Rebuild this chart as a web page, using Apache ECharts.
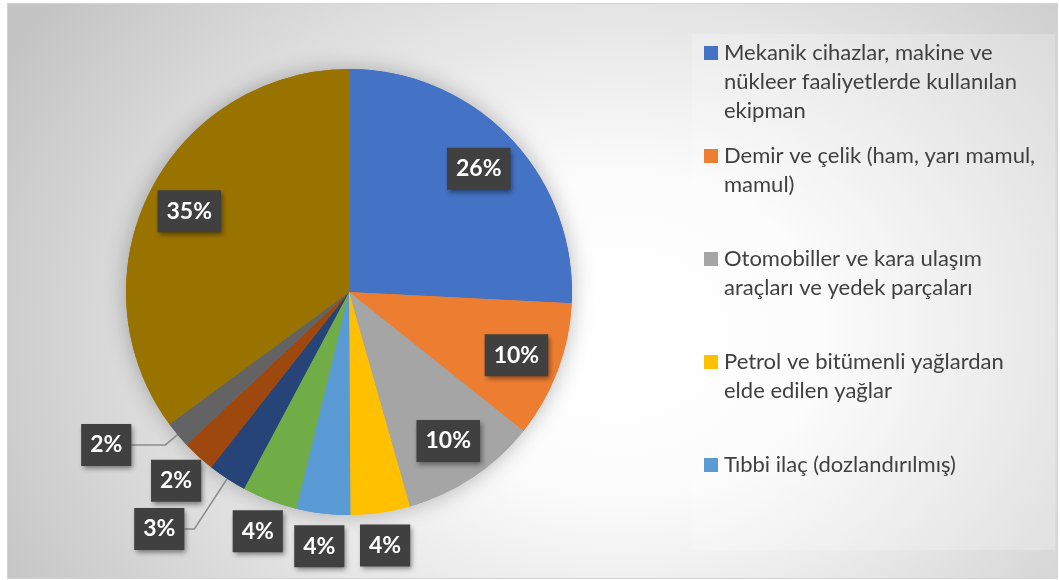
<!DOCTYPE html>
<html>
<head>
<meta charset="utf-8">
<script src="https://cdn.jsdelivr.net/npm/echarts@6/dist/echarts.min.js"></script>
<style>
  html, body { margin: 0; padding: 0; background: #ffffff; }
  #frame {
    position: absolute; left: 7px; top: 3px; width: 1051px; height: 576px; box-sizing: border-box;
    border: 1px solid #d4d4d4;
    background: radial-gradient(ellipse 700px 560px at 610px 330px, #ffffff 0%, #fcfcfc 28%, #c4c4c4 100%);
  }
  #chart { position: absolute; left: 0; top: 0; width: 1060px; height: 580px; }
</style>
</head>
<body>
<div id="frame"></div>
<div id="chart"></div>
<script>
// ---- data ----
const categories = [
  'Mekanik cihazlar, makine ve\nnükleer faaliyetlerde kullanılan\nekipman',
  'Demir ve çelik (ham, yarı mamul,\nmamul)',
  'Otomobiller ve kara ulaşım\naraçları ve yedek parçaları',
  'Petrol ve bitümenli yağlardan\nelde edilen yağlar',
  'Tıbbi ilaç (dozlandırılmış)',
  'Kategori 6',
  'Kategori 7',
  'Kategori 8',
  'Kategori 9',
  'Kategori 10'
];
const shares = [25.8, 9.9, 9.9, 4.3, 3.9, 4.0, 2.8, 2.4, 1.9, 35.1];
const colors = ['#4472C4', '#ED7D31', '#A5A5A5', '#FFC000', '#5B9BD5',
                '#70AD47', '#264478', '#9E480E', '#636363', '#997300'];
const legendCount = 5;

// label placement groups
const insideIdx = [0, 1, 2, 9];
const ringIdx = [3, 4, 5, 7];
const leaderIdx = [6, 8];

// ---- layout ----
const CENTER = [349, 292];
const R = 223;
const FONT = 'Lato, "Open Sans", sans-serif';

const boxLabel = {
  color: '#ffffff', fontFamily: FONT, fontWeight: 'bold', fontSize: 23, lineHeight: 23,
  backgroundColor: '#404040', padding: [10, 9, 9, 9],
  shadowColor: 'rgba(0,0,0,0.45)', shadowBlur: 5, shadowOffsetX: 2, shadowOffsetY: 3,
  formatter: p => Math.round(p.percent) + '%'
};

function makeData(showFn, extraFn) {
  return shares.map((v, i) => {
    const d = { name: categories[i], value: v, itemStyle: { color: colors[i] }, label: { show: showFn(i) } };
    if (extraFn) Object.assign(d, extraFn(i));
    return d;
  });
}

const leaderLen = { 6: [60, 10], 8: [16, 34] };
const clear = 'rgba(0,0,0,0)';

const basePie = {
  type: 'pie', center: CENTER, startAngle: 90, clockwise: true,
  avoidLabelOverlap: false, emphasis: { disabled: true }, silent: true, animation: false
};

function labelRing(radius, idx) {
  return Object.assign({}, basePie, {
    radius: radius, z: 3,
    itemStyle: { color: clear },
    label: Object.assign({ position: 'inside' }, boxLabel),
    labelLine: { show: false },
    labelLayout: { hideOverlap: false },
    data: makeData(i => idx.includes(i)).map(d => Object.assign(d, { itemStyle: { color: clear } }))
  });
}

const series = [
  // halo / shadow under the pie
  Object.assign({}, basePie, {
    radius: R, z: 1,
    itemStyle: { shadowBlur: 22, shadowColor: 'rgba(0,0,0,0.28)' },
    label: { show: false }, labelLine: { show: false },
    data: makeData(() => false)
  }),
  // main pie with leader-line labels
  Object.assign({}, basePie, {
    radius: R, z: 2,
    label: Object.assign({ position: 'outside', distanceToLabelLine: 0 }, boxLabel),
    labelLine: { show: true, lineStyle: { color: '#8c8c8c', width: 1.5 } },
    labelLayout: { hideOverlap: false },
    data: makeData(i => leaderIdx.includes(i), i => leaderIdx.includes(i)
      ? { labelLine: { show: true, length: leaderLen[i][0], length2: leaderLen[i][1], lineStyle: { color: '#8c8c8c', width: 1.5 } } }
      : { labelLine: { show: false } })
  }),
  labelRing([0, 352], insideIdx),
  labelRing([238, 268], ringIdx)
];

// legend: one block per visible category, first-line aligned square marker
const rich = { g: { width: 6 }, ind: { width: 20 },
  t: { fontFamily: FONT, fontSize: 22, color: '#404040', lineHeight: 29 } };
colors.slice(0, legendCount).forEach((c, i) => { rich['m' + i] = { width: 14, height: 14, backgroundColor: c }; });

const legendTops = [42, 145, 248, 351, 454];
const legends = categories.slice(0, legendCount).map((name, i) => ({
  data: [name], left: 699, top: legendTops[i], orient: 'vertical', padding: 0,
  itemWidth: 0, itemHeight: 0, icon: 'rect', selectedMode: false,
  itemStyle: { opacity: 0 },
  textStyle: { rich: rich },
  formatter: n => n.split('\n').map((l, k) => (k === 0 ? '{m' + i + '|}{g|}' : '{ind|}') + '{t|' + l + '}').join('\n')
}));

const chart = echarts.init(document.getElementById('chart'), null, { renderer: 'canvas' });
chart.setOption({
  backgroundColor: 'transparent',
  animation: false,
  graphic: [{
    type: 'rect', z: -10, silent: true,
    shape: { x: 692, y: 34, width: 363, height: 516 },
    style: { fill: 'rgba(255,255,255,0.22)' }
  }],
  legend: legends,
  series: series
});
</script>
</body>
</html>
